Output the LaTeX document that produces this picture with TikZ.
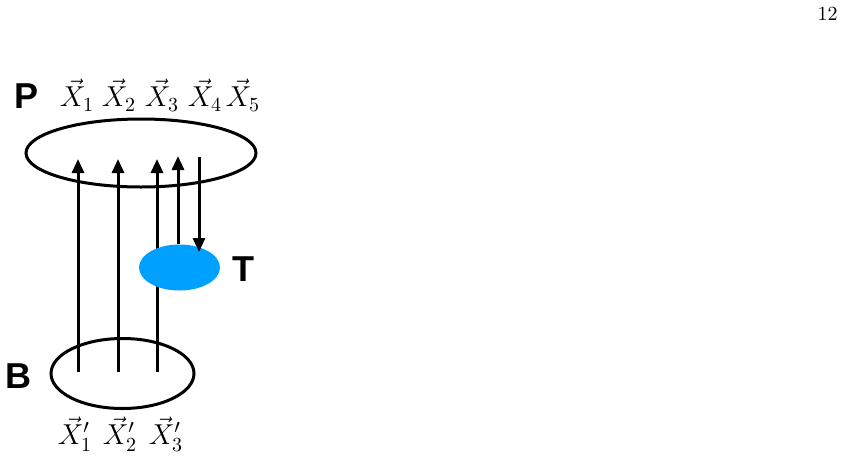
\documentclass[tikz,border=0pt]{standalone}
\usepackage{amsmath}
\usepackage{amssymb}
\usepackage{fontspec}
\newfontfamily\labelfont{Liberation Sans}
\usepackage{tikz}
\usetikzlibrary{shapes.geometric,arrows.meta}
\definecolor{tblue}{RGB}{0,160,255}
\tikzset{
  ring/.style={ellipse, draw, line width=1.5pt, inner sep=0pt},
  flow/.style={line width=1.5pt, -{Triangle[width=6pt,length=7pt]}},
  bigletter/.style={inner sep=0pt, font=\labelfont\bfseries\fontsize{18}{20}\selectfont},
  xlab/.style={inner sep=0pt, font=\fontsize{14}{16}\selectfont}
}
\begin{document}
\begin{tikzpicture}[x=0.5pt,y=-0.5pt]
\useasboundingbox (0,0) rectangle (845,456);

% page number
\node [font=\fontsize{10}{12}\selectfont, anchor=north east, inner sep=0pt] (pagenum) at (838,7) {12};

%Shape: Ellipse P
\node [ring, minimum width=115pt, minimum height=34pt] (P) at (141,153) {};
%Shape: Ellipse B
\node [ring, minimum width=71.5pt, minimum height=35pt] (B) at (122.5,373.5) {};

% ends of the arrows
\coordinate (b1) at (78,372);  \coordinate (p1) at (78,159);
\coordinate (b2) at (118,372); \coordinate (p2) at (118,159);
\coordinate (b3) at (157,372); \coordinate (p3) at (157,159);
\coordinate (p4) at (178,156);
\coordinate (p5) at (199,157); \coordinate (t5) at (199,252);

\draw [flow] (b1) -- (p1);
\draw [flow] (b2) -- (p2);
\draw [flow] (b3) -- (p3);

%Shape: Ellipse T
\node [ellipse, fill=tblue, minimum width=40.5pt, minimum height=23pt, inner sep=0pt] (T) at (179.5,267.5) {};

\draw [flow] (T.north -| p4) -- (p4);
\draw [flow] (p5) -- (t5);

% Text Node
\node [bigletter] (Plab) at (27,96) {P};
\node [bigletter] (Tlab) at (243,269) {T};
\node [bigletter] (Blab) at (18,376) {B};

% Text Node
\node [xlab] (x1) at (77,95)  {$\vec{X}_1$};
\node [xlab] (x2) at (119,95) {$\vec{X}_2$};
\node [xlab] (x3) at (162,95) {$\vec{X}_3$};
\node [xlab] (x4) at (205,95) {$\vec{X}_4$};
\node [xlab] (x5) at (243,95) {$\vec{X}_5$};

\node [xlab] (y1) at (75,434)  {$\vec{X}'_1$};
\node [xlab] (y2) at (120,434) {$\vec{X}'_2$};
\node [xlab] (y3) at (166,434) {$\vec{X}'_3$};
\end{tikzpicture}
\end{document}
